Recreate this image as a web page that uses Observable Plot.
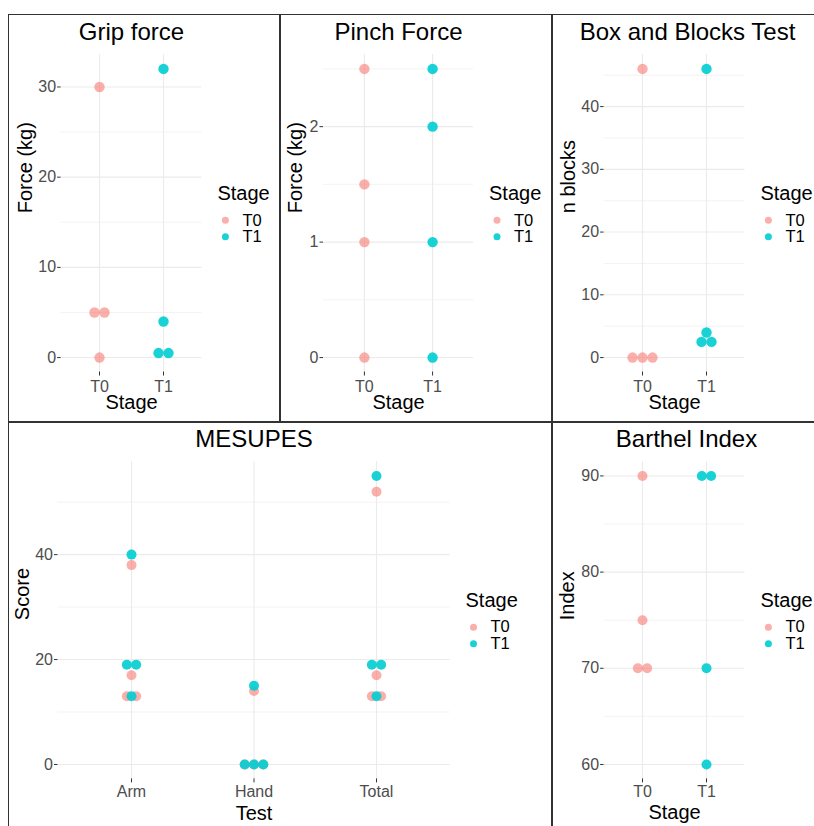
<!DOCTYPE html>
<html>
<head>
<meta charset="utf-8">
<script src="https://cdn.jsdelivr.net/npm/d3@7"></script>
<script src="https://cdn.jsdelivr.net/npm/@observablehq/plot@0.6"></script>
<style>
  html, body { margin: 0; padding: 0; background: #fff; }
  #page { position: relative; width: 814px; height: 826px; overflow: hidden; background: #fff; }
  .panel-svg { position: absolute; }
  .border { position: absolute; box-sizing: border-box; border: 1.5px solid #333; pointer-events: none; }
</style>
</head>
<body>
<div id="page"></div>
<script>
// ---------------- DATA ----------------
const stages = ["T0", "T1"];
const stageColors = ["#F8766D", "#00CDD2"];
const stageOpacity = [0.58, 0.9];

const gripT0 = [30, 5, 5, 0];
const gripT1 = [32, 4, 0.5, 0.5];
const gripTicks = [0, 10, 20, 30];

const pinchT0 = [2.5, 1.5, 1, 0];
const pinchT1 = [2.5, 2, 1, 0];
const pinchTicks = [0, 1, 2];

const boxT0 = [46, 0, 0, 0];
const boxT1 = [46, 4, 2.5, 2.5];
const boxTicks = [0, 10, 20, 30, 40];

const mesupesTests = ["Arm", "Hand", "Total"];
const mesupesArmT0 = [38, 17, 13, 13];
const mesupesArmT1 = [40, 19, 19, 13];
const mesupesHandT0 = [14, 0, 0, 0];
const mesupesHandT1 = [15, 0, 0, 0];
const mesupesTotalT0 = [52, 17, 13, 13];
const mesupesTotalT1 = [55, 19, 19, 13];
const mesupesTicks = [0, 20, 40];

const barthelT0 = [90, 75, 70, 70];
const barthelT1 = [90, 90, 70, 60];
const barthelTicks = [60, 70, 80, 90];

// ---------------- LAYOUT ----------------
const FONT = "'Liberation Sans', Arial, Helvetica, sans-serif";

const panels = [
  { title: "Grip force", ylabel: "Force (kg)", xlabel: "Stage",
    cats: stages, series: [[gripT0], [gripT1]], byStageCat: true, ticks: gripTicks,
    box: [9, 15, 280, 422], plot: [60.6, 54, 201.4, 371.5], r: 5.2, spacing: 10, titleDx: 0, ylabDx: -35.6, xlabDy: 37, xPad: 5 },
  { title: "Pinch Force", ylabel: "Force (kg)", xlabel: "Stage",
    cats: stages, series: [[pinchT0], [pinchT1]], byStageCat: true, ticks: pinchTicks,
    box: [280, 15, 552, 422], plot: [323, 54, 473, 371.5], r: 5.2, spacing: 10, titleDx: 0, ylabDx: -28, xlabDy: 37, xPad: 5 },
  { title: "Box and Blocks Test", ylabel: "n blocks", xlabel: "Stage",
    cats: stages, series: [[boxT0], [boxT1]], byStageCat: true, ticks: boxTicks,
    box: [552, 15, 830, 422], plot: [603.6, 54, 744.4, 371.5], r: 5.2, spacing: 10, titleDx: 13, ylabDx: -35.6, xlabDy: 37, xPad: 5 },
  { title: "MESUPES", ylabel: "Score", xlabel: "Test",
    cats: mesupesTests,
    series: [[mesupesArmT0, mesupesArmT1], [mesupesHandT0, mesupesHandT1], [mesupesTotalT0, mesupesTotalT1]],
    byStageCat: false, ticks: mesupesTicks,
    box: [9, 422, 552, 840], plot: [57.5, 461, 449.5, 778.4], r: 5, spacing: 9.3, titleDx: 0, ylabDx: -35.5, xlabDy: 41, xPad: 3 },
  { title: "Barthel Index", ylabel: "Index", xlabel: "Stage",
    cats: stages, series: [[barthelT0], [barthelT1]], byStageCat: true, ticks: barthelTicks,
    box: [552, 422, 830, 840], plot: [603.6, 461, 744.4, 778.4], r: 5, spacing: 9.3, titleDx: 12, ylabDx: -36.6, xlabDy: 40, xPad: 3 }
];

// rows: {cat, stage, value, k} where k is the centred stacking index among equal values
function buildRows(p) {
  const rows = [];
  p.cats.forEach((c, ci) => {
    stages.forEach((s, si) => {
      let vals;
      if (p.byStageCat) { if (ci !== si) return; vals = p.series[ci][0]; }
      else vals = p.series[ci][si];
      const seen = new Map();
      vals.forEach(v => {
        const n = vals.filter(u => u === v).length;
        const i = seen.get(v) || 0;
        seen.set(v, i + 1);
        rows.push({ cat: c, stage: s, value: v, k: i - (n - 1) / 2 });
      });
    });
  });
  return rows;
}

const page = document.getElementById("page");

panels.forEach(p => {
  const rows = buildRows(p);
  const [bl, bt, br, bb] = p.box;
  const [pl, pt, pr, pb] = p.plot;
  const ext = d3.extent(rows, d => d.value);
  const pad = (ext[1] - ext[0]) * 0.05;
  const lo = ext[0] - pad, hi = ext[1] + pad;
  const step = p.ticks[1] - p.ticks[0];
  const minor = [];
  for (let t = p.ticks[0] - step / 2; t <= hi + 1e-9; t += step) if (t >= lo) minor.push(t);

  const marks = [
    Plot.gridY(minor, { stroke: "#EBEBEB", strokeOpacity: 1, strokeWidth: 0.6 }),
    Plot.gridY(p.ticks, { stroke: "#EBEBEB", strokeOpacity: 1, strokeWidth: 1.1 }),
    Plot.gridX(p.cats, { stroke: "#EBEBEB", strokeOpacity: 1, strokeWidth: 1.1 }),
    Plot.axisY(p.ticks, { tickSize: 3.5, tickPadding: 1.5, fontSize: 16, fill: "#4D4D4D", stroke: "#333",
      tickFormat: d => String(d), label: null }),
    Plot.axisX(p.cats, { tickSize: 4, tickPadding: p.xPad, fontSize: 16, fill: "#4D4D4D", stroke: "#333", label: null })
  ];

  stages.forEach((s, si) => {
    const sub = rows.filter(r => r.stage === s);
    const ks = [...new Set(sub.map(r => r.k))];
    ks.forEach(k => {
      marks.push(Plot.dot(sub.filter(r => r.k === k), {
        x: "cat", y: "value", r: p.r, fill: stageColors[si], fillOpacity: stageOpacity[si],
        stroke: null, dx: k * p.spacing
      }));
    });
  });

  // titles
  marks.push(Plot.text([p.title], { text: d => d, frameAnchor: "top", dy: -15, dx: p.titleDx,
    lineAnchor: "bottom", fontSize: 24, fill: "#000" }));
  marks.push(Plot.text([p.ylabel], { text: d => d, frameAnchor: "left", dx: p.ylabDx, rotate: -90,
    fontSize: 20, fill: "#000" }));
  marks.push(Plot.text([p.xlabel], { text: d => d, frameAnchor: "bottom", dy: p.xlabDy,
    fontSize: 20, fill: "#000" }));

  // legend
  marks.push(Plot.text(["Stage"], { text: d => d, frameAnchor: "right", dx: 15.5, dy: -13.5,
    lineAnchor: "bottom", textAnchor: "start", fontSize: 20, fill: "#000" }));
  stages.forEach((s, si) => {
    marks.push(Plot.dot([s], { frameAnchor: "right", dx: 23.5, dy: 7 + 16.5 * si, r: 3.5,
      fill: stageColors[si], fillOpacity: stageOpacity[si], stroke: null }));
    marks.push(Plot.text([s], { text: d => d, frameAnchor: "right", dx: 40.5, dy: 7 + 16.5 * si,
      textAnchor: "start", fontSize: 16.5, fill: "#000" }));
  });

  const svg = Plot.plot({
    width: br - bl,
    height: bb - bt,
    marginLeft: pl - bl,
    marginRight: br - pr,
    marginTop: pt - bt,
    marginBottom: bb - pb,
    style: { fontFamily: FONT, background: "transparent", overflow: "visible" },
    x: { type: "point", domain: p.cats, padding: 0.6, round: false },
    y: { domain: [lo, hi], nice: false },
    marks
  });
  svg.classList.add("panel-svg");
  svg.style.left = bl + "px";
  svg.style.top = bt + "px";
  page.appendChild(svg);

  const b = document.createElement("div");
  b.className = "border";
  b.style.left = (bl - 0.75) + "px";
  b.style.top = (bt - 0.75) + "px";
  b.style.width = (br - bl + 1.5) + "px";
  b.style.height = (bb - bt + 1.5) + "px";
  page.appendChild(b);
});
</script>
</body>
</html>
